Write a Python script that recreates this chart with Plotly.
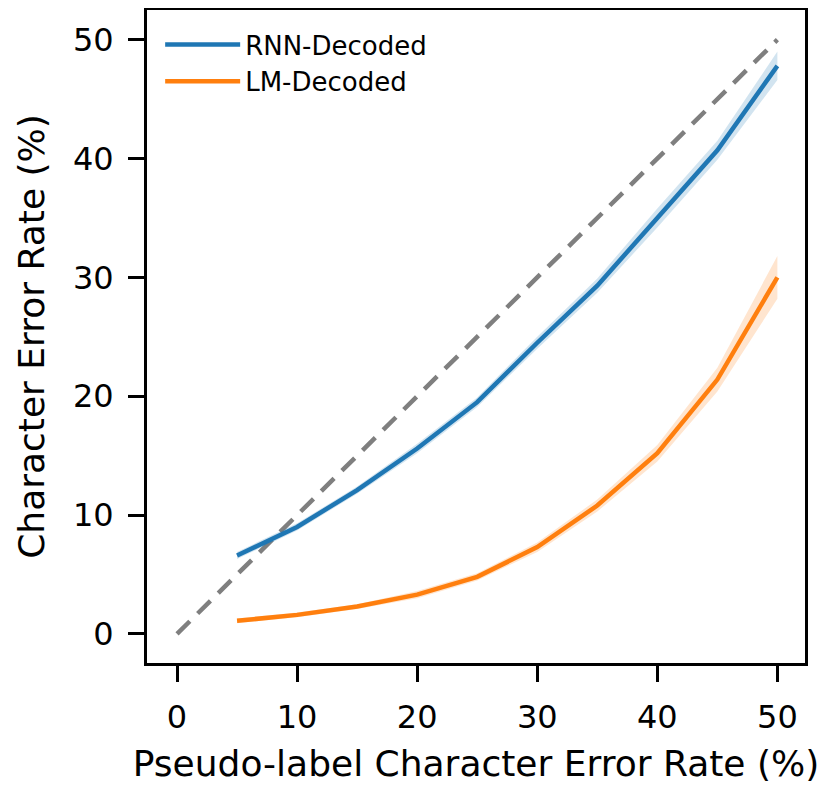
import plotly.graph_objects as go

pseudo_cer = [5, 10, 15, 20, 25, 30, 35, 40, 45, 50]
rnn_cer = [6.6, 9.0, 12.1, 15.6, 19.5, 24.5, 29.3, 35.0, 40.7, 47.8]
rnn_err = [0.3, 0.3, 0.3, 0.4, 0.4, 0.5, 0.6, 0.8, 0.8, 1.2]
lm_cer = [1.1, 1.6, 2.3, 3.3, 4.8, 7.3, 10.8, 15.2, 21.4, 30.0]
lm_err = [0.2, 0.2, 0.2, 0.3, 0.3, 0.4, 0.5, 0.7, 1.0, 1.8]
diag = [0, 50]
tick_vals = [0, 10, 20, 30, 40, 50]

BLUE = "#1f77b4"
ORANGE = "#ff7f0e"

fig = go.Figure()

def band(y, e, color_rgba):
    up = [a + b for a, b in zip(y, e)]
    lo = [a - b for a, b in zip(y, e)]
    fig.add_trace(go.Scatter(x=pseudo_cer, y=up, mode="lines", line=dict(width=0),
                             showlegend=False, hoverinfo="skip"))
    fig.add_trace(go.Scatter(x=pseudo_cer, y=lo, mode="lines", line=dict(width=0),
                             fill="tonexty", fillcolor=color_rgba,
                             showlegend=False, hoverinfo="skip"))

fig.add_trace(go.Scatter(x=diag, y=diag, mode="lines",
                         line=dict(color="#7f7f7f", width=4.5, dash="18px,11px"),
                         showlegend=False))
band(rnn_cer, rnn_err, "rgba(31,119,180,0.2)")
band(lm_cer, lm_err, "rgba(255,127,14,0.2)")
fig.add_trace(go.Scatter(x=pseudo_cer, y=rnn_cer, mode="lines",
                         line=dict(color=BLUE, width=4.5), name="RNN-Decoded"))
fig.add_trace(go.Scatter(x=pseudo_cer, y=lm_cer, mode="lines",
                         line=dict(color=ORANGE, width=4.5), name="LM-Decoded"))

axis_common = dict(showgrid=False, zeroline=False, showline=True, linecolor="black",
                   linewidth=3, mirror=True, ticks="outside", ticklen=16,
                   tickwidth=3, tickcolor="black", tickvals=tick_vals,
                   ticklabelstandoff=8,
                   tickfont=dict(size=32, color="black"))

fig.update_xaxes(range=[-2.5, 52.3],
                 title=dict(text="Pseudo-label Character Error Rate (%)",
                            font=dict(size=36, color="black"), standoff=16),
                 **axis_common)
fig.update_yaxes(range=[-2.45, 52.5],
                 title=dict(text="Character Error Rate (%)",
                            font=dict(size=36, color="black"), standoff=18),
                 **axis_common)

fig.update_layout(
    width=832, height=782,
    margin=dict(l=139, r=35, t=2, b=127, autoexpand=False),
    plot_bgcolor="white", paper_bgcolor="white",
    font=dict(family="DejaVu Sans", color="black"),
    legend=dict(x=0.02, y=0.983, xanchor="left", yanchor="top",
                bgcolor="rgba(255,255,255,0)", font=dict(size=26),
                itemwidth=75, traceorder="normal"),
)

fig.write_html("out.html")
